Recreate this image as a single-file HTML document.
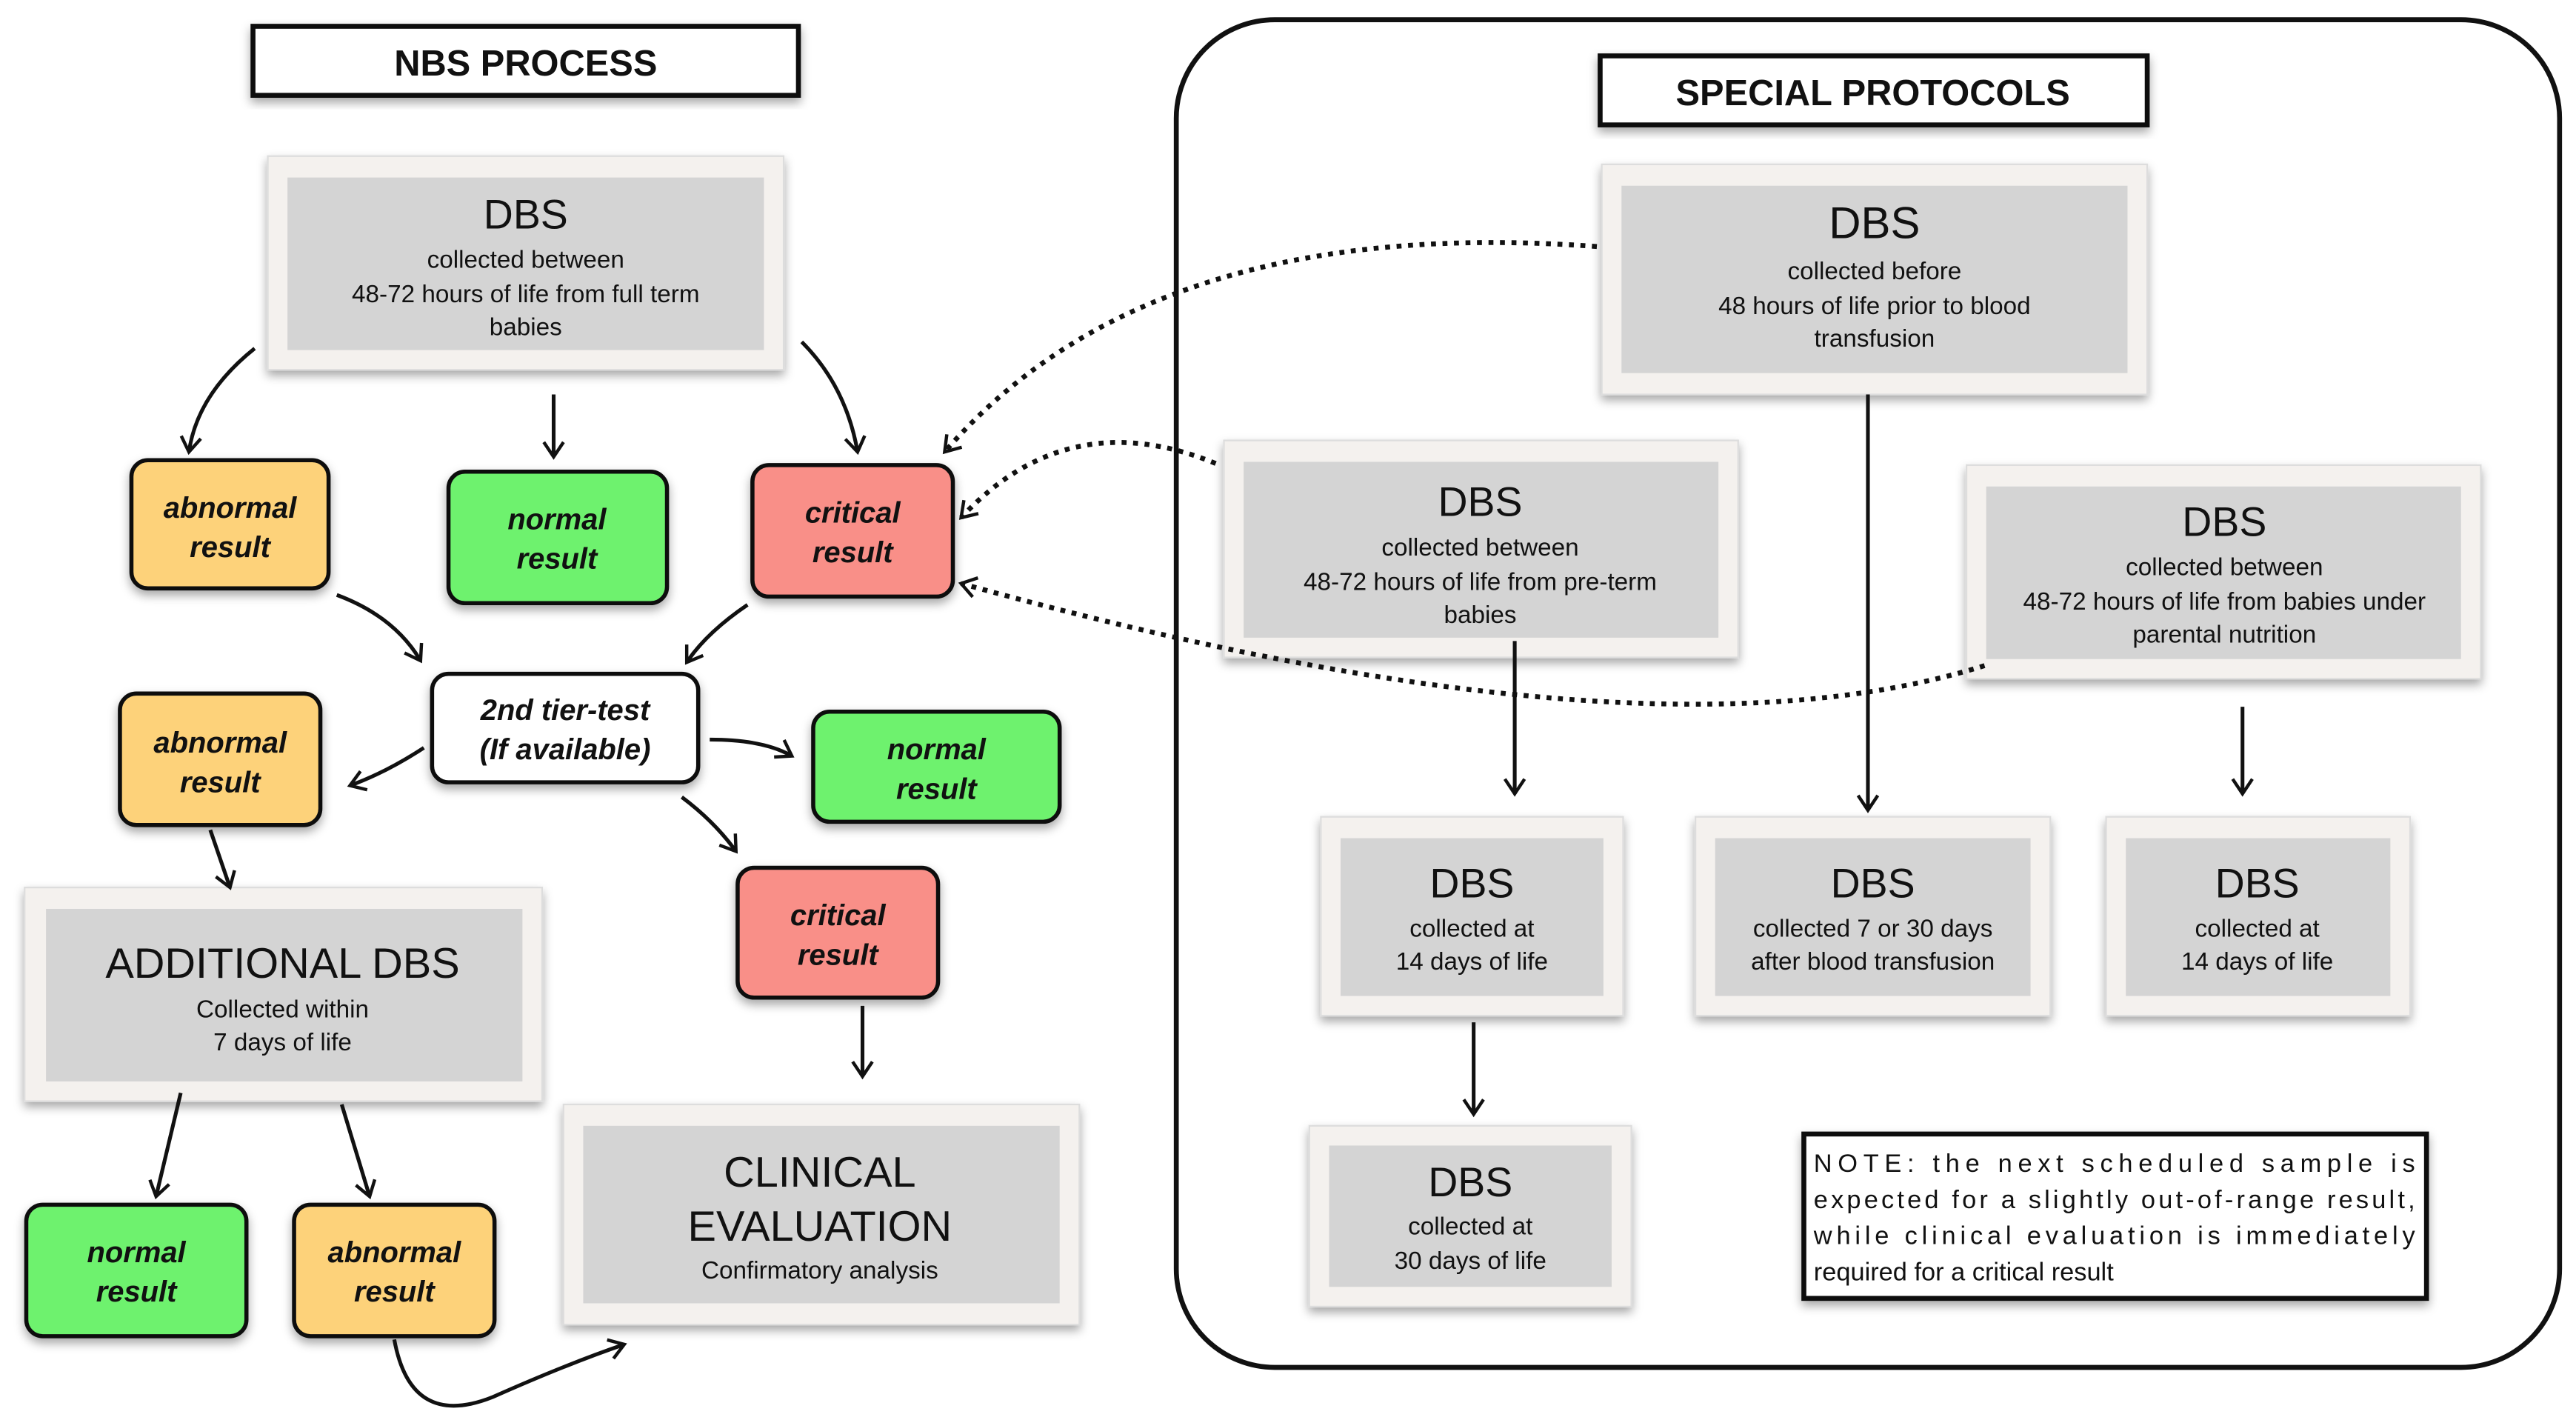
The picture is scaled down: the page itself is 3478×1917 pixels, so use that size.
<!DOCTYPE html>
<html><head><meta charset="utf-8"><style>
html,body{margin:0;padding:0;background:#fff;}
svg{display:block;}
text{font-family:"Liberation Sans",Arial,sans-serif;fill:#111;}
.t{font-weight:bold;}
.it{font-style:italic;font-weight:bold;font-size:18px;}
.s{font-size:15px;}
</style></head><body>
<svg width="3478" height="1917" viewBox="0 0 1568 864" preserveAspectRatio="none" xmlns="http://www.w3.org/2000/svg">
<defs>
<filter id="sh" x="-10%" y="-10%" width="120%" height="130%"><feDropShadow dx="0" dy="3" stdDeviation="3" flood-color="#000" flood-opacity="0.35"/></filter>
<marker id="ah" markerWidth="14" markerHeight="14" refX="10" refY="7" orient="auto" markerUnits="userSpaceOnUse"><path d="M1,1 L10,7 L1,13" fill="none" stroke="#111" stroke-width="2"/></marker>
</defs>

<!-- big rounded region -->
<rect x="716" y="12" width="842" height="820" rx="60" fill="none" stroke="#111" stroke-width="3"/>

<!-- titles -->
<rect x="154" y="16" width="332" height="42" fill="#fff" stroke="#111" stroke-width="3" filter="url(#sh)"/>
<text x="320" y="46" text-anchor="middle" class="t" font-size="22">NBS PROCESS</text>
<rect x="974" y="34" width="333" height="42" fill="#fff" stroke="#111" stroke-width="3" filter="url(#sh)"/>
<text x="1140" y="64" text-anchor="middle" class="t" font-size="22">SPECIAL PROTOCOLS</text>

<!-- framed gray boxes -->
<g filter="url(#sh)">
<rect x="163" y="95" width="314" height="130" fill="#f4f1ee" stroke="#ddd"/>
<rect x="15" y="540" width="315" height="130" fill="#f4f1ee" stroke="#ddd"/>
<rect x="343" y="672" width="314" height="134" fill="#f4f1ee" stroke="#ddd"/>
<rect x="975" y="100" width="332" height="140" fill="#f4f1ee" stroke="#ddd"/>
<rect x="745" y="268" width="313" height="132" fill="#f4f1ee" stroke="#ddd"/>
<rect x="1197" y="283" width="313" height="130" fill="#f4f1ee" stroke="#ddd"/>
<rect x="804" y="497" width="184" height="121" fill="#f4f1ee" stroke="#ddd"/>
<rect x="1032" y="497" width="216" height="121" fill="#f4f1ee" stroke="#ddd"/>
<rect x="1282" y="497" width="185" height="121" fill="#f4f1ee" stroke="#ddd"/>
<rect x="797" y="685" width="196" height="110" fill="#f4f1ee" stroke="#ddd"/>
</g>
<g fill="#d4d4d4">
<rect x="175" y="108" width="290" height="105"/>
<rect x="28" y="553" width="290" height="105"/>
<rect x="355" y="685" width="290" height="108"/>
<rect x="987" y="113" width="308" height="114"/>
<rect x="757" y="281" width="289" height="107"/>
<rect x="1209" y="296" width="289" height="105"/>
<rect x="816" y="510" width="160" height="96"/>
<rect x="1044" y="510" width="192" height="96"/>
<rect x="1294" y="510" width="161" height="96"/>
<rect x="809" y="697" width="172" height="86"/>
</g>

<!-- gray box text -->
<text x="320" y="139" text-anchor="middle" font-size="25">DBS</text>
<text x="320" y="163" text-anchor="middle" class="s">collected between</text>
<text x="320" y="184" text-anchor="middle" class="s">48-72 hours of life from full term</text>
<text x="320" y="204" text-anchor="middle" class="s">babies</text>

<text x="172" y="595" text-anchor="middle" font-size="26">ADDITIONAL DBS</text>
<text x="172" y="619" text-anchor="middle" class="s">Collected within</text>
<text x="172" y="639" text-anchor="middle" class="s">7 days of life</text>

<text x="499" y="722" text-anchor="middle" font-size="26">CLINICAL</text>
<text x="499" y="755" text-anchor="middle" font-size="26">EVALUATION</text>
<text x="499" y="778" text-anchor="middle" class="s">Confirmatory analysis</text>

<text x="1141" y="145" text-anchor="middle" font-size="27">DBS</text>
<text x="1141" y="170" text-anchor="middle" class="s">collected before</text>
<text x="1141" y="191" text-anchor="middle" class="s">48 hours of life prior to blood</text>
<text x="1141" y="211" text-anchor="middle" class="s">transfusion</text>

<text x="901" y="314" text-anchor="middle" font-size="25">DBS</text>
<text x="901" y="338" text-anchor="middle" class="s">collected between</text>
<text x="901" y="359" text-anchor="middle" class="s">48-72 hours of life from pre-term</text>
<text x="901" y="379" text-anchor="middle" class="s">babies</text>

<text x="1354" y="326" text-anchor="middle" font-size="25">DBS</text>
<text x="1354" y="350" text-anchor="middle" class="s">collected between</text>
<text x="1354" y="371" text-anchor="middle" class="s">48-72 hours of life from babies under</text>
<text x="1354" y="391" text-anchor="middle" class="s">parental nutrition</text>

<text x="896" y="546" text-anchor="middle" font-size="25">DBS</text>
<text x="896" y="570" text-anchor="middle" class="s">collected at</text>
<text x="896" y="590" text-anchor="middle" class="s">14 days of life</text>

<text x="1140" y="546" text-anchor="middle" font-size="25">DBS</text>
<text x="1140" y="570" text-anchor="middle" class="s">collected 7 or 30 days</text>
<text x="1140" y="590" text-anchor="middle" class="s">after blood transfusion</text>

<text x="1374" y="546" text-anchor="middle" font-size="25">DBS</text>
<text x="1374" y="570" text-anchor="middle" class="s">collected at</text>
<text x="1374" y="590" text-anchor="middle" class="s">14 days of life</text>

<text x="895" y="728" text-anchor="middle" font-size="25">DBS</text>
<text x="895" y="751" text-anchor="middle" class="s">collected at</text>
<text x="895" y="772" text-anchor="middle" class="s">30 days of life</text>

<!-- result boxes -->
<g stroke="#111" stroke-width="2.5" filter="url(#sh)">
<rect x="80" y="280" width="120" height="78" rx="10" fill="#fdd27a"/>
<rect x="273" y="287" width="133" height="80" rx="10" fill="#6ef26e"/>
<rect x="458" y="283" width="122" height="80" rx="10" fill="#f98f88"/>
<rect x="263" y="410" width="162" height="66" rx="10" fill="#fff"/>
<rect x="73" y="422" width="122" height="80" rx="10" fill="#fdd27a"/>
<rect x="495" y="433" width="150" height="67" rx="10" fill="#6ef26e"/>
<rect x="449" y="528" width="122" height="79" rx="10" fill="#f98f88"/>
<rect x="16" y="733" width="134" height="80" rx="10" fill="#6ef26e"/>
<rect x="179" y="733" width="122" height="80" rx="10" fill="#fdd27a"/>
</g>
<g class="it" text-anchor="middle">
<text x="140" y="315" class="it">abnormal</text><text x="140" y="339" class="it">result</text>
<text x="339" y="322" class="it">normal</text><text x="339" y="346" class="it">result</text>
<text x="519" y="318" class="it">critical</text><text x="519" y="342" class="it">result</text>
<text x="344" y="438" class="it">2nd tier-test</text><text x="344" y="462" class="it">(If available)</text>
<text x="134" y="458" class="it">abnormal</text><text x="134" y="482" class="it">result</text>
<text x="570" y="462" class="it">normal</text><text x="570" y="486" class="it">result</text>
<text x="510" y="563" class="it">critical</text><text x="510" y="587" class="it">result</text>
<text x="83" y="768" class="it">normal</text><text x="83" y="792" class="it">result</text>
<text x="240" y="768" class="it">abnormal</text><text x="240" y="792" class="it">result</text>
</g>

<!-- note -->
<rect x="1098" y="690" width="379" height="100" fill="#fff" stroke="#111" stroke-width="3" filter="url(#sh)"/>
<g font-size="15.5">
<text x="1104" y="713" textLength="366" lengthAdjust="spacing">NOTE: the next scheduled sample is</text>
<text x="1104" y="735" textLength="366" lengthAdjust="spacing">expected for a slightly out-of-range result,</text>
<text x="1104" y="757" textLength="366" lengthAdjust="spacing">while clinical evaluation is immediately</text>
<text x="1104" y="779">required for a critical result</text>
</g>

<!-- solid arrows -->
<g fill="none" stroke="#111" stroke-width="2.3" marker-end="url(#ah)">
<path d="M155,212 Q120,240 115,275"/>
<path d="M337,240 L337,278"/>
<path d="M488,208 Q515,235 522,275"/>
<path d="M205,362 Q240,375 256,402"/>
<path d="M455,368 Q430,385 418,403"/>
<path d="M258,455 Q235,470 213,478"/>
<path d="M432,450 Q465,450 482,460"/>
<path d="M415,485 Q435,500 448,518"/>
<path d="M128,505 L140,540"/>
<path d="M525,612 L525,655"/>
<path d="M110,665 L95,728"/>
<path d="M208,672 L225,728"/>
<path d="M240,815 Q250,870 300,850 Q345,830 380,818"/>
<path d="M922,390 L922,483"/>
<path d="M1137,240 L1137,493"/>
<path d="M1365,430 L1365,483"/>
<path d="M897,622 L897,678"/>
</g>
<!-- dotted arrows -->
<g fill="none" stroke="#111" stroke-width="3" stroke-dasharray="3,4" marker-end="url(#ah)">
<path d="M972,150 Q700,130 575,275"/>
<path d="M740,282 Q650,245 585,315"/>
<path d="M1208,405 Q1000,470 585,355"/>
</g>
</svg>
</body></html>
